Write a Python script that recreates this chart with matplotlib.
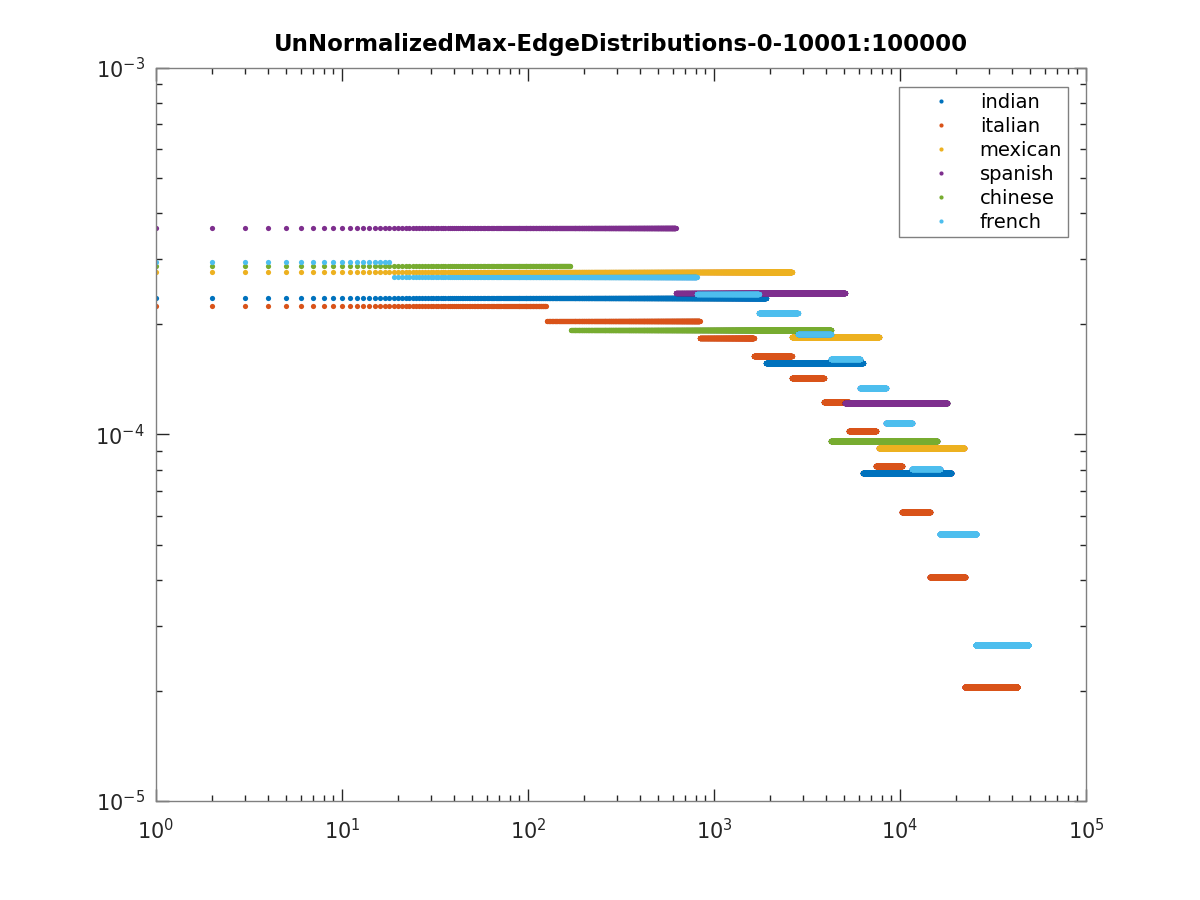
import numpy as np
import matplotlib
matplotlib.use("Agg")
import matplotlib.pyplot as plt
from matplotlib.ticker import LogLocator, NullFormatter

# rank at which each plateau ends, and the plateau value
SERIES = ["indian", "italian", "mexican", "spanish", "chinese", "french"]
COLORS = ["#0072BD", "#D95319", "#EDB120", "#7E2F8E", "#77AC30", "#4DBEEE"]

indian_ends = [1900, 6300, 18800]
indian_vals = [2.357e-4, 1.568e-4, 7.86e-5]

italian_ends = [125, 836, 1634, 2616, 3890, 5300, 7410, 10230, 14470, 22320, 42530]
italian_vals = [2.242e-4, 2.04e-4, 1.834e-4, 1.638e-4, 1.427e-4, 1.226e-4,
                1.023e-4, 8.17e-5, 6.12e-5, 4.07e-5, 2.04e-5]

mexican_ends = [2616, 7690, 22040]
mexican_vals = [2.775e-4, 1.846e-4, 9.20e-5]

spanish_ends = [621, 5045, 17860]
spanish_vals = [3.66e-4, 2.43e-4, 1.22e-4]

chinese_ends = [169, 4243, 15780]
chinese_vals = [2.88e-4, 1.929e-4, 9.61e-5]

french_ends = [18, 806, 1738, 2818, 4243, 6080, 8390, 11580, 16370, 25600, 48700]
french_vals = [2.95e-4, 2.69e-4, 2.416e-4, 2.146e-4, 1.881e-4, 1.608e-4,
               1.34e-4, 1.076e-4, 8.06e-5, 5.36e-5, 2.67e-5]

DATA = {
    "indian": (indian_ends, indian_vals),
    "italian": (italian_ends, italian_vals),
    "mexican": (mexican_ends, mexican_vals),
    "spanish": (spanish_ends, spanish_vals),
    "chinese": (chinese_ends, chinese_vals),
    "french": (french_ends, french_vals),
}


def expand(ends, vals):
    """one point per rank 1..N, value held constant on each plateau"""
    ends = np.asarray(ends)
    counts = np.diff(np.concatenate([[0], ends]))
    x = np.arange(1, ends[-1] + 1)
    y = np.repeat(vals, counts)
    return x, y


TXT = "#262626"
plt.rcParams["font.family"] = "DejaVu Sans"
plt.rcParams["mathtext.default"] = "regular"
plt.rcParams["axes.unicode_minus"] = False

fig = plt.figure(figsize=(12, 9), dpi=100)
ax = fig.add_axes([0.13, 0.11, 0.775, 0.815])

for name, col in zip(SERIES, COLORS):
    x, y = expand(*DATA[name])
    ax.plot(x, y, ".", color=col, ms=7.5, mew=0, label=name, snap=False)

ax.set_xscale("log")
ax.set_yscale("log")
ax.set_xlim(1, 1e5)
ax.set_ylim(1e-5, 1e-3)

ax.xaxis.set_major_locator(LogLocator(base=10, numticks=10))
ax.xaxis.set_minor_locator(LogLocator(base=10, subs=np.arange(2, 10), numticks=20))
ax.yaxis.set_minor_locator(LogLocator(base=10, subs=np.arange(2, 10), numticks=20))
ax.xaxis.set_minor_formatter(NullFormatter())
ax.yaxis.set_minor_formatter(NullFormatter())

ax.tick_params(which="both", direction="in", top=True, right=True,
               colors=TXT, labelsize=15, width=1.0)
ax.tick_params(which="major", length=9)
ax.tick_params(which="minor", length=4.5)
ax.tick_params(axis="x", which="major", pad=12)
ax.tick_params(axis="y", which="major", pad=8)
for s in ax.spines.values():
    s.set_color("#808080")
    s.set_linewidth(1.0)

ax.set_title("UnNormalizedMax-EdgeDistributions-0-10001:100000",
             fontsize=16.5, fontweight="bold", color="black", pad=12)

leg = ax.legend(loc="upper right", bbox_to_anchor=(0.9806, 0.9728),
                borderaxespad=0, fontsize=14, markerscale=0.8,
                handlelength=3.7, handletextpad=0.15, labelspacing=0.25,
                borderpad=0.3, fancybox=False, framealpha=1, edgecolor="#808080")
leg.get_frame().set_linewidth(1.0)
for t in leg.get_texts():
    t.set_color("black")

fig.savefig("out.png", dpi=100)
